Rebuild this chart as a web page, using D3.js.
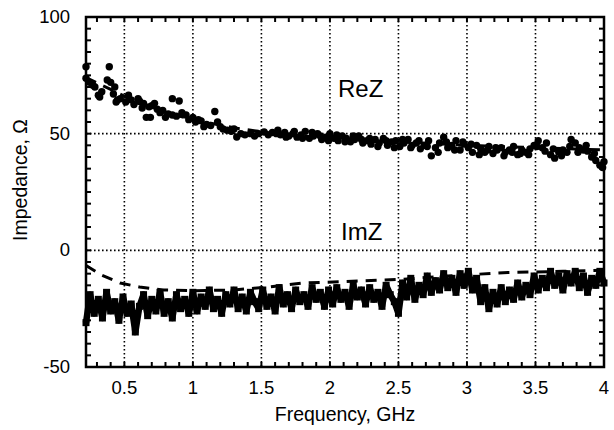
<!DOCTYPE html>
<html>
<head>
<meta charset="utf-8">
<script src="https://cdn.jsdelivr.net/npm/d3@7"></script>
<style>
  html, body { margin: 0; padding: 0; background: #fff; }
  svg text { font-family: "Liberation Sans", Arial, Helvetica, sans-serif; fill: #000; }
</style>
</head>
<body>
<svg id="chart" width="614" height="430"></svg>
<script>
// Measured real part of impedance (Ohm) vs frequency (GHz)
const reFreq = [
  0.22,0.22,0.245,0.27,0.285,0.31,0.32,0.335,0.39,0.40,0.375,0.42,0.43,0.44,0.45,0.47,
  0.51,0.53,0.55,0.57,0.60,0.61,0.63,0.64,0.66,0.68,0.69,0.70,0.72,0.74,0.76,0.78,
  0.80,0.82,0.85,0.85,0.88,0.90,0.92,0.95,0.97,1.00,1.02,1.04,1.06,1.08,1.10,1.13,
  1.16,1.18,1.20,1.22,1.25,1.28,1.30,1.32,1.35,1.38,1.42,1.45,1.48,1.52,1.55,1.58,
  1.61,1.64,1.67,1.70,1.73,1.76,1.79,1.82,1.85,1.88,1.91,1.94,1.97,2.00,2.03,2.06,
  2.09,2.12,2.15,2.18,2.21,2.24,2.27,2.30,2.33,2.36,2.39,2.42,2.45,2.48,2.51,2.54,
  2.57,2.60,2.63,2.66,2.69,2.72,2.74,2.77,2.80,2.83,2.86,2.89,2.92,2.95,2.98,3.01,
  3.04,3.07,3.10,3.13,3.16,3.19,3.22,3.25,3.28,3.31,3.34,3.37,3.40,3.43,3.46,3.49,
  3.52,3.55,3.58,3.61,3.64,3.67,3.70,3.73,3.76,3.79,3.82,3.85,3.88,3.91,3.94,3.97,4.00,
  1.62,1.68,1.74,1.80,1.87,1.93,1.99,2.05,2.11,2.17,2.23,2.29,2.35,2.41,2.47,2.53,
  2.59,2.65,2.71,2.79,2.85,2.91,2.97,3.03,3.09,3.15,3.21,3.27,3.33,3.39,3.45,3.51,
  3.57,3.63,3.69,3.75,3.81,3.87,3.93,3.99
];
const reVal = [
  78.7,73.8,72,70.8,70,66.5,65.7,68,78.7,72,73,67,70,63.6,64.4,65,
  63.6,66.5,64.5,62.5,65,64,61,63,57,61.5,57,62,63,60.5,59,60,
  57,58.5,58,65,57.5,64,59,58,56,57,55,56,55.5,53,54,53.5,
  59.5,55,53,52,51.5,51,52,48.6,50,49.5,50,49,50,50.7,49.5,50.5,
  50,49.5,50.5,49,50,48.5,49.5,51,48,49,50,47.5,48.5,50,48,47,
  49,48,46.5,47.5,49,46,47,45.5,47.5,46,48,45,46.5,47,44.5,46,
  47.5,45,46,43.5,45,47,40.5,44,46,48.5,44,45,47,43,45.5,44,
  42,45,43.5,42,44.5,41.5,43,44,42,43,44.5,41,43,42,43.5,45,
  47,44,46,41,39.5,42,43,42,47.5,46,44,43,42.5,40,38.5,36.5,38,
  51.5,48.5,51,48,50.5,49,47,49.5,46.5,49,47.5,48,44.5,47,44,47.5,
  44,47,44.5,42,46.5,43,46.5,45.5,41,43,44,40.5,42,41.5,41,44.5,
  42.5,43.5,40.5,44.5,42,45,41.5,35.5
];

// Model curve for the real part
const reModelFreq = [0.22,0.4,0.6,0.8,1.0,1.3,1.6,2.0,2.5,3.0,3.5,4.0];
const reModelVal  = [74,69,63,59,56,52.5,50,48,46.5,45,44,43];

// Measured imaginary part of impedance (Ohm)
const imFreq = [
  0.22,0.25,0.28,0.31,0.34,0.37,0.40,0.43,0.46,0.49,0.52,0.55,0.58,0.61,0.64,0.67,
  0.70,0.73,0.76,0.79,0.82,0.85,0.88,0.91,0.94,0.97,1.00,1.03,1.06,1.09,1.12,1.15,
  1.18,1.21,1.24,1.27,1.30,1.33,1.36,1.39,1.42,1.45,1.48,1.51,1.54,1.57,1.60,1.63,
  1.66,1.69,1.72,1.75,1.78,1.81,1.84,1.87,1.90,1.93,1.96,1.99,2.02,2.05,2.08,2.11,
  2.14,2.17,2.20,2.23,2.26,2.29,2.32,2.35,2.38,2.41,2.44,2.47,2.50,2.53,2.56,2.59,
  2.62,2.65,2.68,2.71,2.74,2.77,2.80,2.83,2.86,2.89,2.92,2.95,2.98,3.01,3.04,3.07,
  3.10,3.13,3.16,3.19,3.22,3.25,3.28,3.31,3.34,3.37,3.40,3.43,3.46,3.49,3.52,3.55,
  3.58,3.61,3.64,3.67,3.70,3.73,3.76,3.79,3.82,3.85,3.88,3.91,3.94,3.97,4.00
];
const imVal = [
  -31,-19,-27,-21,-29,-18,-26,-22,-30,-20,-27,-23,-35,-24,-19,-28,
  -21,-26,-18,-27,-22,-29,-19,-25,-21,-27,-18,-26,-20,-24,-17,-25,
  -21,-27,-19,-23,-17,-25,-20,-26,-18,-22,-25,-17,-24,-20,-26,-16,
  -23,-19,-25,-17,-22,-19,-24,-16,-21,-18,-24,-17,-23,-16,-21,-18,
  -24,-15,-20,-17,-23,-16,-21,-18,-24,-15,-19,-22,-27,-14,-20,-12,
  -21,-15,-19,-11,-18,-13,-17,-10,-16,-12,-18,-10,-15,-9,-17,-12,
  -22,-16,-25,-18,-23,-16,-22,-17,-21,-14,-20,-15,-19,-11,-17,-12,
  -16,-9,-15,-11,-17,-10,-14,-9,-16,-11,-18,-12,-15,-9,-14
];

// Model curve for the imaginary part
const imModelFreq = [0.22,0.33,0.47,0.61,0.78,1.0,1.3,1.55,1.8,2.1,2.5,3.0,3.3,3.7,4.0];
const imModelVal  = [-6.5,-10.5,-14,-15.7,-17,-17.3,-17,-15.7,-14,-13.4,-12.5,-10.5,-9.5,-9,-8.5];

// Axis ticks
const xTickValues = [0.5,1,1.5,2,2.5,3,3.5,4];
const xTickLabels = ["0.5","1","1.5","2","2.5","3","3.5","4"];
const yTickValues = [-50,0,50,100];
const yTickLabels = ["-50","0","50","100"];
const xGridValues = [0.5,1,1.5,2,2.5,3,3.5];
const yGridValues = [0,50];

const W = 614, H = 430;
const m = { left: 86, right: 10, top: 17, bottom: 63 };
const iw = W - m.left - m.right, ih = H - m.top - m.bottom;

const x = d3.scaleLinear().domain([0.22, 4]).range([0, iw]);
const y = d3.scaleLinear().domain([-50, 100]).range([ih, 0]);

const svg = d3.select("#chart");
const g = svg.append("g").attr("transform", `translate(${m.left},${m.top})`);

// dotted grid
g.append("g").selectAll("line").data(xGridValues).join("line")
  .attr("x1", d => x(d)).attr("x2", d => x(d)).attr("y1", 0).attr("y2", ih)
  .attr("stroke", "#000").attr("stroke-width", 1.6).attr("stroke-dasharray", "1.6,2.4");
g.append("g").selectAll("line").data(yGridValues).join("line")
  .attr("y1", d => y(d)).attr("y2", d => y(d)).attr("x1", 0).attr("x2", iw)
  .attr("stroke", "#000").attr("stroke-width", 1.6).attr("stroke-dasharray", "1.6,2.4");

// minor ticks on all four sides, pointing inward
const xMinor = d3.range(3, 41).map(d => d / 10);
const yMinor = d3.range(-50, 101, 5);
const tk = g.append("g").attr("stroke", "#000").attr("stroke-width", 2);
tk.selectAll(".xb").data(xMinor).join("line").attr("class", "xb")
  .attr("x1", d => x(d)).attr("x2", d => x(d)).attr("y1", ih).attr("y2", ih - 5);
tk.selectAll(".xt").data(xMinor).join("line").attr("class", "xt")
  .attr("x1", d => x(d)).attr("x2", d => x(d)).attr("y1", 0).attr("y2", 5);
tk.selectAll(".yl").data(yMinor).join("line").attr("class", "yl")
  .attr("y1", d => y(d)).attr("y2", d => y(d)).attr("x1", 0).attr("x2", 5);
tk.selectAll(".yr").data(yMinor).join("line").attr("class", "yr")
  .attr("y1", d => y(d)).attr("y2", d => y(d)).attr("x1", iw).attr("x2", iw - 5);

// model curves (dashed)
const line = d3.line().x(d => x(d[0])).y(d => y(d[1]));
g.append("path").datum(d3.zip(reModelFreq, reModelVal))
  .attr("d", line).attr("fill", "none").attr("stroke", "#000")
  .attr("stroke-width", 3).attr("stroke-dasharray", "11,8");
g.append("path").datum(d3.zip(imModelFreq, imModelVal))
  .attr("d", line).attr("fill", "none").attr("stroke", "#000")
  .attr("stroke-width", 3).attr("stroke-dasharray", "11,8");

// measured imaginary part: thick noisy trace with square markers
const imPts = d3.zip(imFreq, imVal);
g.append("path").datum(imPts)
  .attr("d", line).attr("fill", "none").attr("stroke", "#000")
  .attr("stroke-width", 6.5).attr("stroke-linejoin", "round");
g.append("g").selectAll("rect").data(imPts).join("rect")
  .attr("x", d => x(d[0]) - 3.5).attr("y", d => y(d[1]) - 3.5)
  .attr("width", 7).attr("height", 7).attr("fill", "#000");

// measured real part: filled dots
g.append("g").selectAll("circle").data(d3.zip(reFreq, reVal)).join("circle")
  .attr("cx", d => x(d[0])).attr("cy", d => y(d[1])).attr("r", 3.7).attr("fill", "#000");

// frame
g.append("rect").attr("x", 0).attr("y", 0).attr("width", iw).attr("height", ih)
  .attr("fill", "none").attr("stroke", "#000").attr("stroke-width", 2.5);

// tick labels
g.append("g").selectAll("text").data(xTickValues).join("text")
  .attr("x", d => x(d)).attr("y", ih + 27).attr("text-anchor", "middle")
  .attr("font-size", 18.5).text((d, i) => xTickLabels[i]);
g.append("g").selectAll("text").data(yTickValues).join("text")
  .attr("x", -16).attr("y", d => y(d) + 6).attr("text-anchor", "end")
  .attr("font-size", 18.5).text((d, i) => yTickLabels[i]);

// axis titles
g.append("text").attr("x", iw / 2).attr("y", ih + 54).attr("text-anchor", "middle")
  .attr("font-size", 19.5).text("Frequency, GHz");
g.append("text").attr("transform", `translate(${27 - m.left},${180 - m.top}) rotate(-90)`)
  .attr("text-anchor", "middle").attr("font-size", 19.5).text("Impedance, Ω");

// series labels
g.append("text").attr("x", 338 - m.left).attr("y", 97 - m.top).attr("font-size", 24).text("ReZ");
g.append("text").attr("x", 341 - m.left).attr("y", 240 - m.top).attr("font-size", 24).text("ImZ");
</script>
</body>
</html>
